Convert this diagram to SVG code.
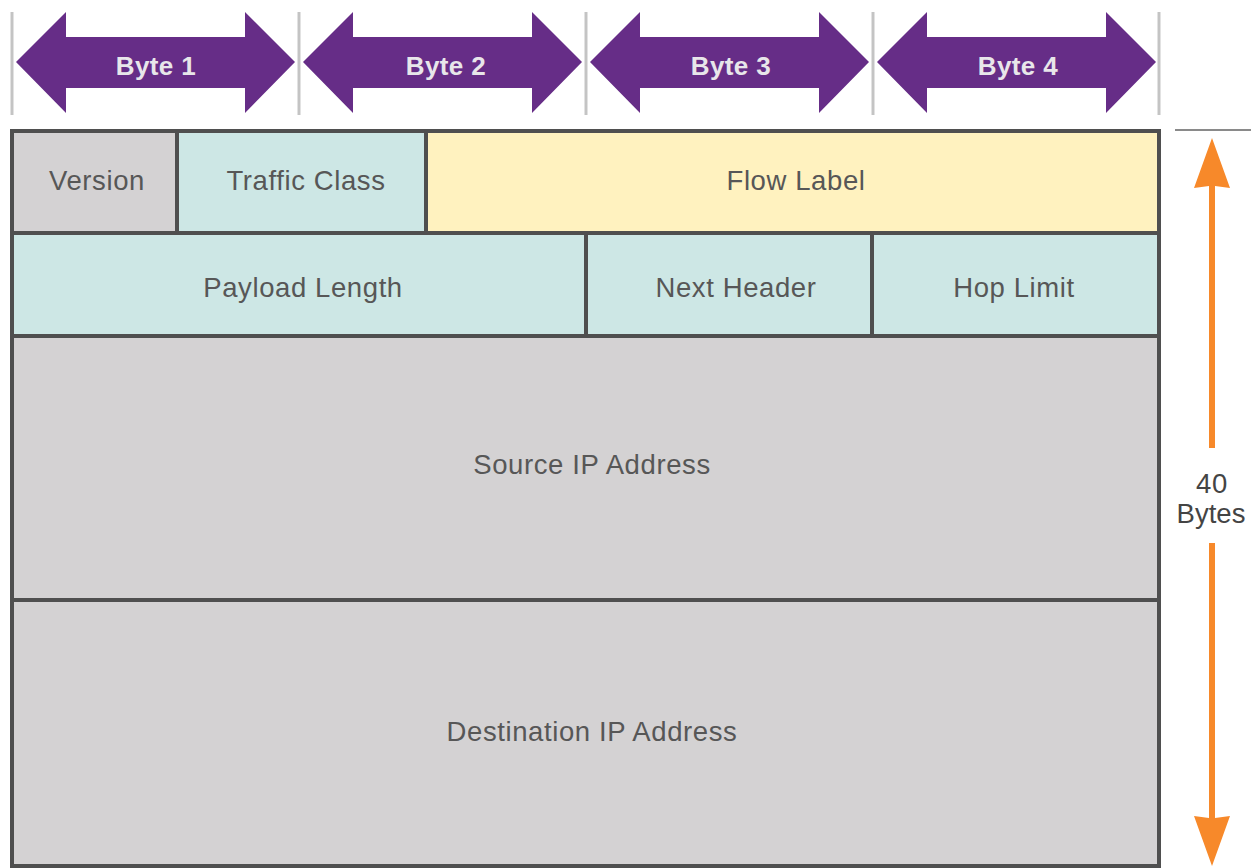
<svg xmlns="http://www.w3.org/2000/svg" width="1251" height="868" viewBox="0 0 1251 868">
<style>
.cell{stroke:#4f4f4f;stroke-width:4}
.g{fill:#d4d2d3}.t{fill:#cde7e5}.y{fill:#fff2bf}
.lbl{font-family:"Liberation Sans",Arial,sans-serif;font-size:27.5px;letter-spacing:0.6px;fill:#575757;text-anchor:middle;dominant-baseline:central}
.byte{font-family:"Liberation Sans",Arial,sans-serif;font-size:26px;font-weight:bold;letter-spacing:0.4px;fill:#e8e6ea;text-anchor:middle;dominant-baseline:central}
.tick{stroke:#c4c4c4;stroke-width:3}
.arr{fill:#662d87}
.or{fill:#f7892a}
</style>
<rect width="1251" height="868" fill="#fff"/>
<g id="byte-scale">
<line class="tick" x1="12" y1="12" x2="12" y2="115"/>
<line class="tick" x1="299" y1="12" x2="299" y2="115"/>
<line class="tick" x1="586" y1="12" x2="586" y2="115"/>
<line class="tick" x1="873" y1="12" x2="873" y2="115"/>
<line class="tick" x1="1159" y1="12" x2="1159" y2="115"/>
</g>
<g id="byte1"><path class="arr" d="M16,62 L66,12 L66,37 L245,37 L245,12 L295,62 L245,113 L245,88 L66,88 L66,113 Z"/><text class="byte" x="156" y="66">Byte 1</text></g>
<g id="byte2"><path class="arr" d="M303,62 L353,12 L353,37 L532,37 L532,12 L582,62 L532,113 L532,88 L353,88 L353,113 Z"/><text class="byte" x="446" y="66">Byte 2</text></g>
<g id="byte3"><path class="arr" d="M590,62 L640,12 L640,37 L819,37 L819,12 L869,62 L819,113 L819,88 L640,88 L640,113 Z"/><text class="byte" x="731" y="66">Byte 3</text></g>
<g id="byte4"><path class="arr" d="M877,62 L927,12 L927,37 L1106,37 L1106,12 L1156,62 L1106,113 L1106,88 L927,88 L927,113 Z"/><text class="byte" x="1018" y="66">Byte 4</text></g>

<g id="version"><rect class="cell g" x="12" y="131" width="165" height="102"/><text class="lbl" x="97" y="180">Version</text></g>
<g id="traffic-class"><rect class="cell t" x="177" y="131" width="249" height="102"/><text class="lbl" x="306" y="180">Traffic Class</text></g>
<g id="flow-label"><rect class="cell y" x="426" y="131" width="733" height="102"/><text class="lbl" x="796" y="180">Flow Label</text></g>
<g id="payload-length"><rect class="cell t" x="12" y="233" width="574" height="103"/><text class="lbl" x="303" y="287">Payload Length</text></g>
<g id="next-header"><rect class="cell t" x="586" y="233" width="286" height="103"/><text class="lbl" x="736" y="287">Next Header</text></g>
<g id="hop-limit"><rect class="cell t" x="872" y="233" width="287" height="103"/><text class="lbl" x="1014" y="287">Hop Limit</text></g>
<g id="source"><rect class="cell g" x="12" y="336" width="1147" height="264"/><text class="lbl" x="592" y="464">Source IP Address</text></g>
<g id="destination"><rect class="cell g" x="12" y="600" width="1147" height="266"/><text class="lbl" x="592" y="731">Destination IP Address</text></g>

<g id="size-indicator">
<line x1="1175" y1="130" x2="1251" y2="130" stroke="#8a8a8a" stroke-width="2"/>
<path class="or" d="M1212,138 L1230,188 L1215,186 L1215,448 L1209,448 L1209,186 L1194,188 Z"/>
<path class="or" d="M1212,866 L1230,816 L1215,818 L1215,543 L1209,543 L1209,818 L1194,816 Z"/>
<text class="lbl" x="1212" y="483" style="fill:#444">40</text>
<text class="lbl" x="1211" y="513" style="fill:#444;letter-spacing:0">Bytes</text>
</g>
</svg>
